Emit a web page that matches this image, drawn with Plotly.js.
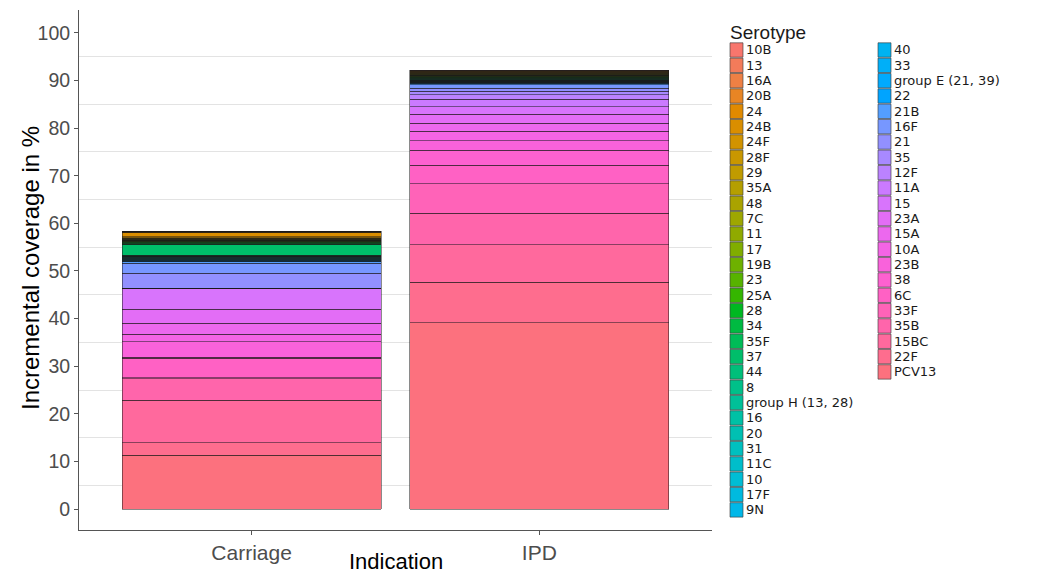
<!DOCTYPE html>
<html>
<head>
<meta charset="utf-8">
<script src="https://cdn.plot.ly/plotly-3.0.1.min.js"></script>
<style>
html,body{margin:0;padding:0;background:#fff;}
#chart{width:1040px;height:575px;}
</style>
</head>
<body>
<div id="chart"></div>
<script>
// Categories on the x axis
const indications = ['Carriage', 'IPD'];

// Serotypes in legend order (top of legend / top of stack first)
const serotypes = ['10B','13','16A','20B','24','24B','24F','28F','29','35A','48','7C','11','17','19B','23','25A','28','34','35F','37','44','8','group H (13, 28)','16','20','31','11C','10','17F','9N','40','33','group E (21, 39)','22','21B','16F','21','35','12F','11A','15','23A','15A','10A','23B','38','6C','33F','35B','15BC','22F','PCV13'];

// Incremental coverage (%) per serotype, Carriage
const carriage = [0,0,0.1,0.1,0.1,0.8,0.2,0.1,0.1,0.1,0.1,0.1,0.1,0.1,0.1,0.1,0.1,0.2,0.2,0.1,2.2,0.1,0.1,0,0.1,0.1,0.1,0.1,0.1,0.1,0.1,0.1,0.2,0.1,0.1,0.3,2.1,3.1,0,0,0,4.4,3.0,2.3,1.6,3.2,0.2,4.1,0.2,4.6,8.9,2.6,11.3];

// Incremental coverage (%) per serotype, IPD
const ipd = [0.05,0.05,0.05,0.05,0.1,0.1,0.1,0.1,0.1,0.1,0.1,0.1,0.1,0.1,0.1,0.1,0.1,0.1,0.1,0.1,0.1,0.1,0.1,0.05,0.05,0.05,0.05,0.05,0.05,0.05,0.05,0.05,0.1,0.1,0.1,0.2,0.7,0.7,0.7,0.9,1.6,1.6,1.9,1.7,2.0,1.9,3.2,3.9,6.2,6.6,7.9,8.5,39.1];

// y tick labels
const yTicks = [0,10,20,30,40,50,60,70,80,90,100];

// ggplot2-style hue palette (HCL, c=100, l=65)
function hcl(h, c, l) {
  const hr = h * Math.PI / 180;
  const U = c * Math.cos(hr), V = c * Math.sin(hr);
  const WX = 95.047, WY = 100.0, WZ = 108.883;
  const Y = l > 7.999592 ? WY * Math.pow((l + 16) / 116, 3) : WY * l / 903.3;
  const t = WX + WY + WZ, x = WX / t, y = WY / t;
  const uN = 2 * x / (6 * y - x + 1.5), vN = 4.5 * y / (6 * y - x + 1.5);
  const u = U / (13 * l) + uN, v = V / (13 * l) + vN;
  const X = 9.0 * Y * u / (4 * v);
  const Z = -X / 3 - 5 * Y + 3 * Y / v;
  const lin = [
    (3.240479 * X - 1.537150 * Y - 0.498535 * Z) / WY,
    (-0.969256 * X + 1.875992 * Y + 0.041556 * Z) / WY,
    (0.055648 * X - 0.204043 * Y + 1.057311 * Z) / WY
  ];
  const g = lin.map(a => {
    let s = a <= 0.0031308 ? 12.92 * a : 1.055 * Math.pow(a, 1 / 2.4) - 0.055;
    s = Math.max(0, Math.min(1, s));
    return Math.round(s * 255);
  });
  return 'rgb(' + g.join(',') + ')';
}
const n = serotypes.length;
const colors = serotypes.map((s, i) => hcl(15 + 360 * i / n, 100, 65));

// Traces: bottom of the stack first (PCV13 ... 10B)
const traces = [];
for (let i = n - 1; i >= 0; i--) {
  traces.push({
    type: 'bar',
    name: serotypes[i],
    x: indications,
    y: [carriage[i], ipd[i]],
    marker: {color: colors[i], line: {color: 'rgba(25,25,25,0.85)', width: 0.6}},
    showlegend: false,
    hoverinfo: 'name+y'
  });
}

// Plot area in pixels
const L = 79, R = 328, T = 10, B = 45, W = 1040, H = 575;
const pw = W - L - R, ph = H - T - B;
const px = v => (v - L) / pw;
const py = v => (H - B - v) / ph;

// Custom two-column legend built from the arrays
const shapes = [];
const annotations = [];
const font = 'Liberation Sans, Arial, Helvetica, sans-serif';
const legFont = 'DejaVu Sans, Liberation Sans, sans-serif';
annotations.push({
  xref: 'paper', yref: 'paper', x: px(728), y: py(33), xanchor: 'left', yanchor: 'middle',
  text: 'Serotype', showarrow: false, font: {family: font, size: 19, color: '#1a1a1a'}
});
// y axis title
annotations.push({
  xref: 'paper', yref: 'paper', x: px(30), y: py(268), xanchor: 'center', yanchor: 'middle',
  text: 'Incremental coverage in %', textangle: -90, showarrow: false,
  font: {family: font, size: 24, color: '#000'}
});
// x axis title
annotations.push({
  xref: 'paper', yref: 'paper', x: 0.5, y: py(574.5), xanchor: 'center', yanchor: 'bottom',
  text: 'Indication', showarrow: false, borderpad: 0,
  font: {family: font, size: 22, color: '#000'}
});
const perCol = 31, rowH = 15.33, firstY = 50;
const colKeyX = [730, 878];
for (let k = 0; k < n; k++) {
  const col = k < perCol ? 0 : 1;
  const row = k < perCol ? k : k - perCol;
  const cy = firstY + row * rowH;
  const kx = colKeyX[col];
  shapes.push({
    type: 'rect', xref: 'paper', yref: 'paper',
    x0: px(kx), x1: px(kx + 13), y0: py(cy + 7.2), y1: py(cy - 7.2),
    fillcolor: colors[k], line: {color: 'rgba(60,60,60,0.8)', width: 0.8}
  });
  annotations.push({
    xref: 'paper', yref: 'paper', x: px(kx + 15), y: py(cy), xanchor: 'left', yanchor: 'middle',
    text: serotypes[k], showarrow: false, font: {family: legFont, size: 13, color: '#1a1a1a'},
    borderpad: 0
  });
}

const layout = {
  width: W, height: H,
  margin: {l: L, r: R, t: T, b: B, pad: 0},
  paper_bgcolor: '#fff', plot_bgcolor: '#fff',
  barmode: 'stack', bargap: 0.1,
  showlegend: false,
  font: {family: font, color: '#1a1a1a'},
  xaxis: {
    type: 'category', range: [-0.6, 1.6],
    showline: true, linecolor: '#555', linewidth: 1,
    ticks: 'outside', ticklen: 4, tickcolor: '#555',
    tickfont: {family: font, size: 21, color: '#4d4d4d'},
    showgrid: false, zeroline: false, automargin: false
  },
  yaxis: {
    range: [-4.4, 104.8],
    tickmode: 'array', tickvals: yTicks, ticktext: yTicks.map(String),
    showline: true, linecolor: '#555', linewidth: 1,
    ticks: 'outside', ticklen: 4, tickcolor: '#555',
    tickfont: {family: font, size: 19.5, color: '#4d4d4d'},
    showgrid: false, zeroline: false, automargin: false,
    minor: {tick0: 5, dtick: 10, showgrid: true, gridcolor: '#e3e3e3', gridwidth: 1, ticks: ''}
  },
  shapes: shapes,
  annotations: annotations
};

Plotly.newPlot('chart', traces, layout, {displayModeBar: false, staticPlot: true});
</script>
</body>
</html>
